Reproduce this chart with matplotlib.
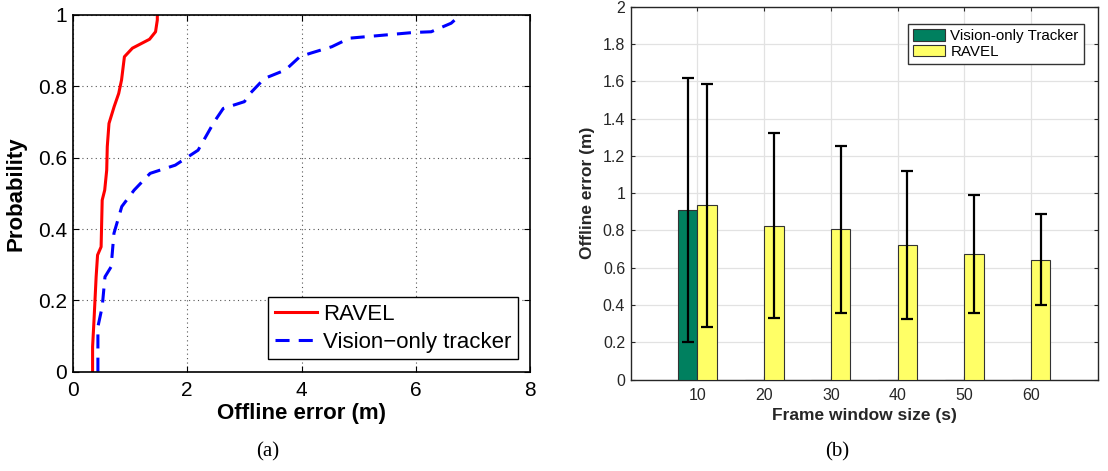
import numpy as np
import matplotlib
matplotlib.use("Agg")
import matplotlib.pyplot as plt

plt.rcParams['font.family'] = ['Liberation Sans', 'DejaVu Sans']

# ---- (a) empirical CDF of offline error ----
ravel_err = [0.343, 0.343, 0.368, 0.405, 0.43, 0.492, 0.511, 0.555, 0.59, 0.60,
             0.63, 0.72, 0.80, 0.85, 0.90, 1.04, 1.34, 1.445, 1.476, 1.476]
ravel_prob = [0.0, 0.07, 0.145, 0.266, 0.327, 0.35, 0.481, 0.509, 0.565, 0.631,
              0.696, 0.743, 0.78, 0.818, 0.883, 0.907, 0.932, 0.953, 0.986, 1.0]

vision_err = [0.436, 0.436, 0.511, 0.56, 0.667, 0.717, 0.854, 1.07, 1.35, 1.79,
              2.19, 2.47, 2.63, 3.0, 3.10, 3.35, 3.72, 3.97, 4.16, 4.53,
              4.84, 5.96, 6.27, 6.62, 6.78]
vision_prob = [0.0, 0.126, 0.182, 0.266, 0.294, 0.388, 0.463, 0.509, 0.556, 0.579,
               0.621, 0.70, 0.738, 0.757, 0.78, 0.822, 0.846, 0.883, 0.893, 0.911,
               0.935, 0.951, 0.953, 0.977, 1.0]

# ---- (b) mean offline error vs frame window size ----
window_labels = ['10', '20', '30', '40', '50', '60']
vision_mean = [0.909, 0.0, 0.0, 0.0, 0.0, 0.0]
vision_std = [0.708, 0.0, 0.0, 0.0, 0.0, 0.0]
ravel_mean = [0.934, 0.826, 0.805, 0.721, 0.674, 0.642]
ravel_std = [0.652, 0.497, 0.446, 0.395, 0.315, 0.245]

W, H = 1108, 471
fig = plt.figure(figsize=(W / 100, H / 100), dpi=100)

# Panel (a)
ax1 = fig.add_axes([73 / W, 1 - 371.7 / H, 457 / W, 356.7 / H])
ax1.plot(ravel_err, ravel_prob, color='#ff0000', lw=2.2, label='RAVEL')
ax1.plot(vision_err, vision_prob, color='#0000ff', lw=2.2, ls=(0, (4.6, 3.0)),
         label='Vision\u2212only tracker')
ax1.set_xlim(0, 8)
ax1.set_ylim(0, 1)
ax1.set_xticks([0, 2, 4, 6, 8])
ax1.set_yticks([0, 0.2, 0.4, 0.6, 0.8, 1])
ax1.set_yticklabels(['0', '0.2', '0.4', '0.6', '0.8', '1'])
ax1.grid(True, color='#555555', ls=(0, (1, 3)), lw=0.8)
ax1.tick_params(direction='in', top=True, right=True, labelsize=15,
                length=4, width=0.8)
ax1.tick_params(axis='x', pad=7)
ax1.tick_params(axis='y', pad=4.5)
ax1.set_xlabel('Offline error (m)', fontsize=16, fontweight='bold')
ax1.set_ylabel('Probability', fontsize=16, fontweight='bold')
ax1.xaxis.set_label_coords(0.5, -0.088)
ax1.yaxis.set_label_coords(-0.101, 0.5)
for s in ax1.spines.values():
    s.set_linewidth(1.2)
leg1 = ax1.legend(loc='lower right', bbox_to_anchor=(517.7 / W, 1 - 359.3 / H),
                  bbox_transform=fig.transFigure, borderaxespad=0,
                  fontsize=16, frameon=True, fancybox=False,
                  edgecolor='black', framealpha=1, borderpad=0.3,
                  handlelength=1.9, handletextpad=0.25, labelspacing=0.3)
leg1.get_frame().set_linewidth(1.0)

# Panel (b)
ax2 = fig.add_axes([630.7 / W, 1 - 379.5 / H, 467 / W, 372.8 / H])
x = np.arange(1, len(window_labels) + 1)
w = 0.292
ax2.bar(x - w / 2, vision_mean, w, color='#00805f', edgecolor='#333333', lw=0.8,
        label='Vision-only Tracker', zorder=3)
ax2.bar(x + w / 2, ravel_mean, w, color='#ffff66', edgecolor='#333333', lw=0.8,
        label='RAVEL', zorder=3)
vis_idx = [i for i, v in enumerate(vision_std) if v > 0]
ax2.errorbar(x[vis_idx] - w / 2, np.array(vision_mean)[vis_idx],
             yerr=np.array(vision_std)[vis_idx], fmt='none', ecolor='black',
             elinewidth=1.6, capsize=4.2, capthick=1.6, zorder=4)
ax2.errorbar(x + w / 2, ravel_mean, yerr=ravel_std, fmt='none', ecolor='black',
             elinewidth=1.6, capsize=4.2, capthick=1.6, zorder=4)
ax2.set_xlim(0, 7)
ax2.set_ylim(0, 2)
ax2.set_xticks(x)
ax2.set_xticklabels(window_labels)
yt = np.round(np.arange(0, 2.01, 0.2), 1)
ax2.set_yticks(yt)
ax2.set_yticklabels([f'{v:g}' for v in yt])
ax2.grid(True, color='#e2e2e2', lw=0.9, zorder=0)
ax2.set_axisbelow(True)
ax2.tick_params(direction='in', top=True, right=True, labelsize=11.5,
                length=3, width=0.8, colors='#262626')
ax2.tick_params(axis='x', pad=6)
ax2.tick_params(axis='y', pad=4)
ax2.set_xlabel('Frame window size (s)', fontsize=12.5, fontweight='bold',
               color='#262626')
ax2.set_ylabel('Offline error (m)', fontsize=12.5, fontweight='bold',
               color='#262626')
ax2.xaxis.set_label_coords(0.5, -0.0756)
ax2.yaxis.set_label_coords(-0.076, 0.5)
for s in ax2.spines.values():
    s.set_linewidth(1.0)
    s.set_color('#262626')
leg2 = ax2.legend(loc='upper right', bbox_to_anchor=(1084 / W, 1 - 24 / H),
                  bbox_transform=fig.transFigure, borderaxespad=0,
                  fontsize=10.9, frameon=True, fancybox=False,
                  edgecolor='#333333', framealpha=1, borderpad=0.35,
                  handlelength=2.15, handleheight=0.8, handletextpad=0.33,
                  labelspacing=0.1)
leg2.get_frame().set_linewidth(1.0)

# Sub-figure captions
serif = ['Liberation Serif', 'DejaVu Serif']
fig.text(268 / W, 1 - 451.7 / H, '(a)', fontsize=15, family=serif,
         ha='center', va='center')
fig.text(836.8 / W, 1 - 451.7 / H, '(b)', fontsize=15, family=serif,
         ha='center', va='center')

fig.savefig('out.png', dpi=100)
